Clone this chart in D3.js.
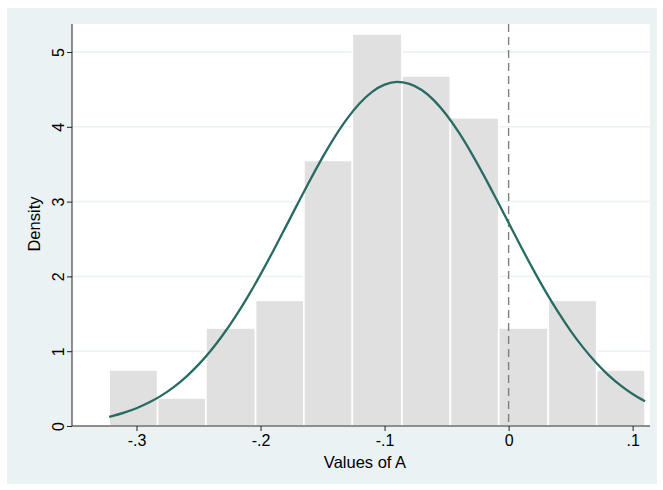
<!DOCTYPE html>
<html>
<head>
<meta charset="utf-8">
<script src="https://cdn.jsdelivr.net/npm/d3@7"></script>
<style>
  body { margin: 0; background: #ffffff; }
  svg { display: block; font-family: "Liberation Sans", Arial, sans-serif; }
</style>
</head>
<body>
<svg></svg>
<script>
// histogram bins (edges) and densities
let binEdges = [-0.322, -0.283, -0.244, -0.204, -0.165, -0.126, -0.086, -0.047, -0.008, 0.032, 0.071, 0.110]
let densities = [0.748, 0.374, 1.31, 1.68, 3.55, 5.24, 4.68, 4.12, 1.31, 1.68, 0.748]

// normal density curve
let curveX = [-0.322, -0.31, -0.30, -0.29, -0.28, -0.27, -0.26, -0.25, -0.24, -0.23, -0.22, -0.21, -0.20, -0.19, -0.18, -0.17, -0.16, -0.15, -0.14, -0.13, -0.12, -0.11, -0.10, -0.09, -0.08, -0.07, -0.06, -0.05, -0.04, -0.03, -0.02, -0.01, 0.00, 0.01, 0.02, 0.03, 0.04, 0.05, 0.06, 0.07, 0.08, 0.09, 0.10, 0.11]
let curveY = [0.122, 0.179, 0.238, 0.313, 0.406, 0.520, 0.658, 0.820, 1.009, 1.226, 1.469, 1.737, 2.027, 2.334, 2.652, 2.973, 3.289, 3.591, 3.869, 4.113, 4.315, 4.467, 4.563, 4.600, 4.575, 4.491, 4.350, 4.157, 3.921, 3.649, 3.351, 3.037, 2.716, 2.397, 2.087, 1.793, 1.521, 1.272, 1.051, 0.856, 0.688, 0.546, 0.427, 0.330]

let xTicks = [-0.3, -0.2, -0.1, 0, 0.1]
let xTickLabels = ['-.3', '-.2', '-.1', '0', '.1']
let yTicks = [0, 1, 2, 3, 4, 5]
let refLine = 0

let width = 663
let height = 490

let plotLeft = 72
let plotRight = 650
let plotTop = 24
let plotBottom = 426

let svg = d3.select('svg')
    .attr('width', width)
    .attr('height', height)

// graph region
svg.append('rect')
    .attr('x', 7).attr('y', 8)
    .attr('width', 650).attr('height', 476)
    .attr('fill', '#eaf2f3')

// plot region
svg.append('rect')
    .attr('x', plotLeft).attr('y', plotTop)
    .attr('width', plotRight - plotLeft).attr('height', plotBottom - plotTop)
    .attr('fill', '#ffffff')

let xScale = d3.scaleLinear()
    .domain([-0.352, 0.114])
    .range([plotLeft, plotRight])

let yScale = d3.scaleLinear()
    .domain([0, 5])
    .range([plotBottom, 52])

// gridlines
svg.append('g')
    .selectAll('line')
    .data(yTicks.slice(1))
    .enter()
    .append('line')
    .attr('x1', plotLeft)
    .attr('x2', plotRight)
    .attr('y1', (d) => yScale(d))
    .attr('y2', (d) => yScale(d))
    .attr('stroke', '#eaf2f3')
    .attr('stroke-width', 1.5)

// bars
svg.append('g')
    .selectAll('rect')
    .data(densities)
    .enter()
    .append('rect')
    .attr('x', (d, i) => xScale(binEdges[i]))
    .attr('width', (d, i) => xScale(binEdges[i + 1]) - xScale(binEdges[i]))
    .attr('y', (d) => yScale(d))
    .attr('height', (d) => yScale(0) - yScale(d))
    .attr('fill', '#e0e0e0')
    .attr('stroke', '#ffffff')
    .attr('stroke-width', 1.6)

// reference line at 0
svg.append('line')
    .attr('x1', xScale(refLine)).attr('x2', xScale(refLine))
    .attr('y1', plotTop).attr('y2', plotBottom)
    .attr('stroke', '#7f7f7f')
    .attr('stroke-width', 1.4)
    .attr('stroke-dasharray', '8,5')

// normal curve
let line = d3.line()
    .x((d, i) => xScale(curveX[i]))
    .y((d) => yScale(d))
    .curve(d3.curveMonotoneX)

svg.append('path')
    .datum(curveY)
    .attr('d', line)
    .attr('fill', 'none')
    .attr('stroke', '#276b62')
    .attr('stroke-width', 2.3)

// axes
let xAxis = d3.axisBottom(xScale)
    .tickValues(xTicks)
    .tickFormat((d, i) => xTickLabels[i])
    .tickSize(5)
    .tickSizeOuter(0)
    .tickPadding(4)

let gx = svg.append('g')
    .attr('id', 'x-axis')
    .attr('transform', 'translate(0, ' + plotBottom + ')')
    .call(xAxis)
gx.select('.domain').attr('d', 'M' + plotLeft + ',0H' + plotRight).attr('stroke', '#222')
gx.selectAll('.tick line').attr('stroke', '#222')
gx.selectAll('text').attr('font-size', 16).attr('fill', '#000').attr('font-family', '"Liberation Sans", Arial, sans-serif')

let yAxis = d3.axisLeft(yScale)
    .tickValues(yTicks)
    .tickFormat(d3.format('d'))
    .tickSize(5)
    .tickSizeOuter(0)

let gy = svg.append('g')
    .attr('id', 'y-axis')
    .attr('transform', 'translate(' + plotLeft + ', 0)')
    .call(yAxis)
gy.select('.domain').attr('d', 'M0,' + plotTop + 'V' + plotBottom).attr('stroke', '#222')
gy.selectAll('.tick line').attr('stroke', '#222')
gy.selectAll('text')
    .attr('font-size', 16)
    .attr('fill', '#000')
    .attr('font-family', '"Liberation Sans", Arial, sans-serif')
    .attr('x', null)
    .attr('dy', null)
    .attr('text-anchor', 'middle')
    .attr('transform', 'translate(-8, 0) rotate(-90)')

// titles
svg.append('text')
    .attr('x', (plotLeft + plotRight) / 2 + 4)
    .attr('y', 468)
    .attr('text-anchor', 'middle')
    .attr('font-size', 16.5)
    .text('Values of A')

svg.append('text')
    .attr('transform', 'translate(40, ' + (yScale(2.7)) + ') rotate(-90)')
    .attr('text-anchor', 'middle')
    .attr('font-size', 16.5)
    .text('Density')
</script>
</body>
</html>
